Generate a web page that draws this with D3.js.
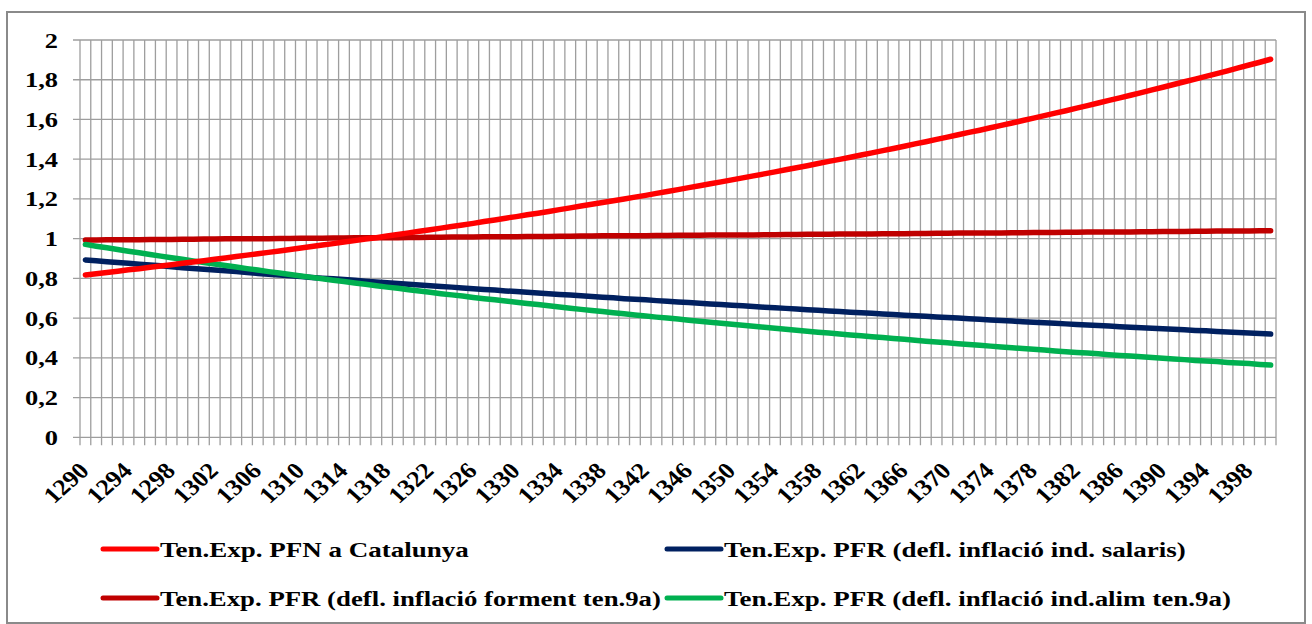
<!DOCTYPE html>
<html>
<head>
<meta charset="utf-8">
<script src="https://cdn.jsdelivr.net/npm/d3@7"></script>
<style>
  html, body { margin: 0; padding: 0; background: #fff; }
  svg { display: block; }
</style>
</head>
<body>
<svg id="chart" width="1312" height="624"></svg>
<script>
// ---------- DATA ----------
const years = [
1290,1291,1292,1293,1294,1295,1296,1297,1298,1299,
1300,1301,1302,1303,1304,1305,1306,1307,1308,1309,
1310,1311,1312,1313,1314,1315,1316,1317,1318,1319,
1320,1321,1322,1323,1324,1325,1326,1327,1328,1329,
1330,1331,1332,1333,1334,1335,1336,1337,1338,1339,
1340,1341,1342,1343,1344,1345,1346,1347,1348,1349,
1350,1351,1352,1353,1354,1355,1356,1357,1358,1359,
1360,1361,1362,1363,1364,1365,1366,1367,1368,1369,
1370,1371,1372,1373,1374,1375,1376,1377,1378,1379,
1380,1381,1382,1383,1384,1385,1386,1387,1388,1389,
1390,1391,1392,1393,1394,1395,1396,1397,1398,1399,
1400];

const xTickLabels = [1290,1294,1298,1302,1306,1310,1314,1318,1322,1326,1330,1334,1338,1342,
  1346,1350,1354,1358,1362,1366,1370,1374,1378,1382,1386,1390,1394,1398];

const yTicks = [0,0.2,0.4,0.6,0.8,1,1.2,1.4,1.6,1.8,2];
const yTickLabels = ["0","0,2","0,4","0,6","0,8","1","1,2","1,4","1,6","1,8","2"];

const pfnCatalunya = [
0.817,0.823,0.830,0.836,0.843,0.849,0.856,0.862,0.869,0.876,
0.882,0.889,0.896,0.903,0.910,0.917,0.924,0.931,0.938,0.945,
0.953,0.960,0.968,0.975,0.983,0.990,0.998,1.005,1.013,1.021,
1.029,1.037,1.045,1.053,1.061,1.069,1.077,1.086,1.094,1.103,
1.111,1.120,1.128,1.137,1.146,1.155,1.164,1.173,1.182,1.191,
1.200,1.209,1.218,1.228,1.237,1.247,1.257,1.266,1.276,1.286,
1.296,1.306,1.316,1.326,1.336,1.347,1.357,1.367,1.378,1.389,
1.399,1.410,1.421,1.432,1.443,1.454,1.465,1.477,1.488,1.500,
1.511,1.523,1.535,1.546,1.558,1.570,1.582,1.595,1.607,1.619,
1.632,1.644,1.657,1.670,1.683,1.696,1.709,1.722,1.735,1.749,
1.762,1.776,1.790,1.803,1.817,1.831,1.845,1.860,1.874,1.888,
1.903];

const pfrSalaris = [
0.893,0.889,0.884,0.880,0.876,0.871,0.867,0.863,0.859,0.854,
0.850,0.846,0.842,0.838,0.834,0.830,0.825,0.821,0.817,0.813,
0.809,0.805,0.801,0.798,0.794,0.790,0.786,0.782,0.778,0.774,
0.771,0.767,0.763,0.759,0.756,0.752,0.748,0.744,0.741,0.737,
0.734,0.730,0.726,0.723,0.719,0.716,0.712,0.709,0.705,0.702,
0.698,0.695,0.692,0.688,0.685,0.681,0.678,0.675,0.671,0.668,
0.665,0.662,0.658,0.655,0.652,0.649,0.646,0.642,0.639,0.636,
0.633,0.630,0.627,0.624,0.621,0.618,0.615,0.612,0.609,0.606,
0.603,0.600,0.597,0.594,0.591,0.588,0.585,0.582,0.579,0.577,
0.574,0.571,0.568,0.565,0.563,0.560,0.557,0.554,0.552,0.549,
0.546,0.544,0.541,0.538,0.536,0.533,0.530,0.528,0.525,0.523,
0.520];

const pfrForment = [
0.993,0.993,0.994,0.994,0.995,0.995,0.996,0.996,0.996,0.997,
0.997,0.998,0.998,0.999,0.999,0.999,1.000,1.000,1.001,1.001,
1.002,1.002,1.002,1.003,1.003,1.004,1.004,1.005,1.005,1.005,
1.006,1.006,1.007,1.007,1.008,1.008,1.008,1.009,1.009,1.010,
1.010,1.011,1.011,1.011,1.012,1.012,1.013,1.013,1.014,1.014,
1.014,1.015,1.015,1.016,1.016,1.017,1.017,1.017,1.018,1.018,
1.019,1.019,1.019,1.020,1.020,1.021,1.021,1.022,1.022,1.022,
1.023,1.023,1.024,1.024,1.025,1.025,1.025,1.026,1.026,1.027,
1.027,1.028,1.028,1.028,1.029,1.029,1.030,1.030,1.031,1.031,
1.031,1.032,1.032,1.033,1.033,1.034,1.034,1.034,1.035,1.035,
1.036,1.036,1.036,1.037,1.037,1.038,1.038,1.039,1.039,1.040,
1.040];

const pfrAlim = [
0.971,0.962,0.954,0.945,0.937,0.929,0.920,0.912,0.904,0.896,
0.888,0.880,0.872,0.865,0.857,0.849,0.842,0.834,0.827,0.820,
0.812,0.805,0.798,0.791,0.784,0.777,0.770,0.763,0.756,0.750,
0.743,0.736,0.730,0.723,0.717,0.711,0.704,0.698,0.692,0.686,
0.680,0.674,0.668,0.662,0.656,0.650,0.644,0.638,0.633,0.627,
0.622,0.616,0.611,0.605,0.600,0.595,0.589,0.584,0.579,0.574,
0.569,0.564,0.559,0.554,0.549,0.544,0.539,0.534,0.529,0.525,
0.520,0.515,0.511,0.506,0.502,0.497,0.493,0.489,0.484,0.480,
0.476,0.471,0.467,0.463,0.459,0.455,0.451,0.447,0.443,0.439,
0.435,0.431,0.427,0.424,0.420,0.416,0.412,0.409,0.405,0.402,
0.398,0.394,0.391,0.387,0.384,0.381,0.377,0.374,0.371,0.367,
0.364];

const seriesNames = [
  "Ten.Exp. PFN a Catalunya",
  "Ten.Exp. PFR (defl. inflació ind. salaris)",
  "Ten.Exp. PFR (defl. inflació forment ten.9a)",
  "Ten.Exp. PFR (defl. inflació ind.alim ten.9a)"
];
const seriesColors = ["#ff0000", "#002060", "#c00000", "#00b050"];
const seriesValues = [pfnCatalunya, pfrSalaris, pfrForment, pfrAlim];

// ---------- LAYOUT ----------
const FONT = "'Liberation Serif'";
const svg = d3.select("#chart");
const plot = { left: 80, right: 1276, top: 40, bottom: 437.3 };
const gridColor = "#9e9e9e";

svg.append("rect").attr("x", 0).attr("y", 0).attr("width", 1312).attr("height", 624).attr("fill", "#fff");
svg.append("rect").attr("x", 7).attr("y", 12).attr("width", 1298).attr("height", 611)
  .attr("fill", "none").attr("stroke", "#8a8a8a").attr("stroke-width", 2);

const x = d3.scaleBand().domain(years).range([plot.left, plot.right]).paddingInner(0).paddingOuter(0);
const y = d3.scaleLinear().domain([0, 2]).range([plot.bottom, plot.top]);
const cx = d => x(d) + x.bandwidth() / 2;

// vertical gridlines at category boundaries (extending below as tick marks)
const bounds = years.map(d => x(d)).concat([plot.right]);
svg.append("g").selectAll("line").data(bounds).join("line")
  .attr("x1", d => d).attr("x2", d => d)
  .attr("y1", plot.top).attr("y2", plot.bottom + 8)
  .attr("stroke", gridColor).attr("stroke-width", 1.3);

// horizontal gridlines (extending left as tick marks)
svg.append("g").selectAll("line").data(yTicks).join("line")
  .attr("x1", plot.left - 7).attr("x2", plot.right)
  .attr("y1", d => y(d)).attr("y2", d => y(d))
  .attr("stroke", gridColor).attr("stroke-width", 1.3);

const styleText = sel => sel.style("font-family", FONT).style("font-weight", "bold").style("fill", "#000");

// y labels (text in the reference is horizontally widened)
svg.append("g").selectAll("text").data(yTicks).join("text")
  .attr("transform", d => `translate(58,${y(d) + 7.5}) scale(1.2,1)`)
  .attr("text-anchor", "end")
  .call(styleText).style("font-size", "22px")
  .text((d, i) => yTickLabels[i]);

// x labels
svg.append("g").selectAll("text").data(xTickLabels).join("text")
  .attr("transform", d => `translate(${cx(d) + 5},472) scale(1.12,1) rotate(-45)`)
  .attr("text-anchor", "end")
  .call(styleText).style("font-size", "23px")
  .text(d => d);

// lines
const line = d3.line().x((v, i) => cx(years[i])).y(v => y(v)).curve(d3.curveLinear);
const drawOrder = [2, 1, 3, 0];
drawOrder.forEach(k => {
  svg.append("path").datum(seriesValues[k])
    .attr("d", line).attr("fill", "none")
    .attr("stroke", seriesColors[k]).attr("stroke-width", 5.5)
    .attr("stroke-linecap", "round").attr("stroke-linejoin", "round");
});

// legend
const legendPos = [
  { lx: 103, ly: 549, tw: 309 },
  { lx: 667, ly: 549, tw: 462 },
  { lx: 103, ly: 598, tw: 501 },
  { lx: 667, ly: 598, tw: 507 }
];
const lg = svg.append("g");
seriesNames.forEach((name, k) => {
  const p = legendPos[k];
  lg.append("line").attr("x1", p.lx).attr("x2", p.lx + 54)
    .attr("y1", p.ly).attr("y2", p.ly)
    .attr("stroke", seriesColors[k]).attr("stroke-width", 5).attr("stroke-linecap", "round");
  const t = lg.append("text").attr("x", 0).attr("y", 0)
    .call(styleText).style("font-size", "22px")
    .text(name);
  const natural = t.node().getComputedTextLength() || p.tw;
  t.attr("transform", `translate(${p.lx + 57},${p.ly + 8}) scale(${p.tw / natural},1)`);
});
</script>
</body>
</html>
